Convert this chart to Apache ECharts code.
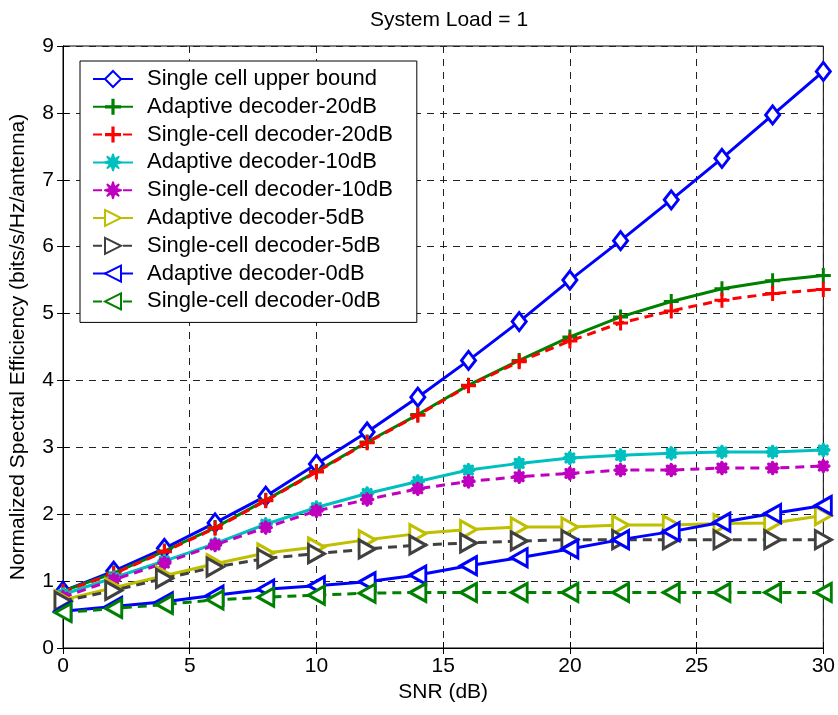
<!DOCTYPE html>
<html>
<head>
<meta charset="utf-8">
<script src="https://cdn.jsdelivr.net/npm/echarts@6/dist/echarts.min.js"></script>
<style>html,body{margin:0;padding:0;background:#fff}#c{width:838px;height:715px}</style>
</head>
<body>
<div id="c"></div>
<script>
const snr = [0,2,4,6,8,10,12,14,16,18,20,22,24,26,28,30];
const seriesNames = [
  'Single cell upper bound',
  'Adaptive decoder-20dB',
  'Single-cell decoder-20dB',
  'Adaptive decoder-10dB',
  'Single-cell decoder-10dB',
  'Adaptive decoder-5dB',
  'Single-cell decoder-5dB',
  'Adaptive decoder-0dB',
  'Single-cell decoder-0dB'
];
const upperBound   = [0.85,1.15,1.49,1.87,2.27,2.75,3.23,3.75,4.30,4.88,5.50,6.09,6.70,7.32,7.97,8.62];
const adaptive20   = [0.85,1.12,1.45,1.80,2.21,2.64,3.08,3.49,3.93,4.30,4.65,4.95,5.18,5.37,5.49,5.57];
const single20     = [0.84,1.11,1.44,1.79,2.20,2.63,3.07,3.48,3.92,4.28,4.59,4.86,5.04,5.20,5.30,5.36];
const adaptive10   = [0.80,1.05,1.30,1.56,1.85,2.10,2.31,2.49,2.66,2.76,2.84,2.88,2.91,2.93,2.93,2.96];
const single10     = [0.76,1.02,1.27,1.54,1.80,2.05,2.22,2.38,2.49,2.56,2.61,2.66,2.66,2.69,2.69,2.72];
const adaptive5    = [0.72,0.90,1.08,1.26,1.42,1.51,1.62,1.71,1.77,1.81,1.81,1.84,1.84,1.86,1.87,1.98];
const single5      = [0.70,0.86,1.04,1.21,1.34,1.41,1.48,1.54,1.57,1.60,1.62,1.62,1.62,1.62,1.62,1.62];
const adaptive0    = [0.55,0.62,0.69,0.79,0.88,0.93,0.99,1.09,1.23,1.35,1.48,1.62,1.74,1.88,2.01,2.13];
const single0      = [0.53,0.59,0.65,0.72,0.76,0.79,0.82,0.83,0.83,0.83,0.83,0.83,0.83,0.83,0.83,0.83];
const allValues = [upperBound,adaptive20,single20,adaptive10,single10,adaptive5,single5,adaptive0,single0];

const colors = ['#0000ff','#008000','#ff0000','#00bfbf','#bf00bf','#bfbf00','#404040','#0000ff','#008000'];
const dashed = [false,false,true,false,true,false,true,false,true];
const PLUS = 'path://M4,0H6V4H10V6H6V10H4V6H0V4H4Z';
const STAR = 'path://M5,0L6,3.3L8.5,1.5L6.7,4L10,5L6.7,6L8.5,8.5L6,6.7L5,10L4,6.7L1.5,8.5L3.3,6L0,5L3.3,4L1.5,1.5L4,3.3Z';
const RTRI = 'path://M0,0L10,5L0,10Z';
const LTRI = 'path://M10,0L0,5L10,10Z';
const symbols = ['diamond',PLUS,PLUS,STAR,STAR,RTRI,RTRI,LTRI,LTRI];
const sizes = [[14,18],[15,15],[15,15],[11,11],[11,11],[16,18],[16,18],[16,18],[16,18]];
const hollow = [true,false,false,false,false,true,true,true,true];

const series = allValues.map((vals,i)=>({
  name: seriesNames[i],
  type: 'line',
  data: snr.map((x,j)=>[x, vals[j]]),
  symbol: symbols[i],
  symbolSize: sizes[i],
  showSymbol: true,
  lineStyle: {color: colors[i], width: 3, type: dashed[i] ? [9,6] : 'solid'},
  itemStyle: hollow[i]
    ? {color: '#ffffff', borderColor: colors[i], borderWidth: 3}
    : (symbols[i]===STAR
        ? {color: colors[i], borderColor: colors[i], borderWidth: 3.5, borderJoin: 'round'}
        : {color: colors[i], borderWidth: 0}),
  emphasis: {disabled: true},
  animation: false,
  z: 2 + i
}));

const FONT = 'Liberation Sans, Arial, sans-serif';
const chart = echarts.init(document.getElementById('c'), null, {renderer: 'canvas'});
chart.setOption({
  backgroundColor: '#fff',
  animation: false,
  title: {
    text: 'System Load = 1',
    left: 444, top: 5, textAlign: 'center',
    textStyle: {fontFamily: FONT, fontSize: 21, fontWeight: 'normal', color: '#000'}
  },
  grid: {left: 62, right: 12, top: 46, bottom: 67, show: true, borderColor: '#000', borderWidth: 1, backgroundColor: 'transparent'},
  legend: {
    orient: 'vertical',
    left: 80, top: 61,
    padding: [7, 24, 10, 12],
    itemWidth: 40, itemHeight: 20, itemGap: 5.8,
    backgroundColor: '#fff', borderColor: '#000', borderWidth: 1,
    textStyle: {fontFamily: FONT, fontSize: 22, lineHeight: 22, color: '#000', padding: [0,0,0,9]},
    data: seriesNames
  },
  xAxis: [{
    type: 'value', min: 0, max: 30, interval: 5,
    name: 'SNR (dB)', nameLocation: 'middle', nameGap: 34,
    nameTextStyle: {fontFamily: FONT, fontSize: 21, color: '#000'},
    axisLine: {show: true, lineStyle: {color: '#000', width: 1}},
    axisTick: {show: true, inside: true, length: 6, lineStyle: {color: '#000'}},
    axisLabel: {fontFamily: FONT, fontSize: 21, color: '#000', margin: 8},
    splitLine: {show: true, lineStyle: {color: '#222', type: [7,6], width: 1}}
  },{
    type: 'value', min: 0, max: 30, interval: 5, position: 'top',
    axisLine: {show: true, lineStyle: {color: '#000'}},
    axisTick: {show: true, inside: true, length: 6, lineStyle: {color: '#000'}},
    axisLabel: {show: false}, splitLine: {show: false}
  }],
  yAxis: [{
    type: 'value', min: 0, max: 9, interval: 1,
    name: 'Normalized Spectral Efficiency (bits/s/Hz/antenna)', nameLocation: 'middle', nameGap: 34,
    nameTextStyle: {fontFamily: FONT, fontSize: 21, color: '#000'},
    axisLine: {show: true, lineStyle: {color: '#000', width: 1}},
    axisTick: {show: true, inside: true, length: 6, lineStyle: {color: '#000'}},
    axisLabel: {fontFamily: FONT, fontSize: 21, color: '#000', margin: 9},
    splitLine: {show: true, lineStyle: {color: '#222', type: [7,6], width: 1}}
  },{
    type: 'value', min: 0, max: 9, interval: 1, position: 'right',
    axisLine: {show: true, lineStyle: {color: '#000'}},
    axisTick: {show: true, inside: true, length: 6, lineStyle: {color: '#000'}},
    axisLabel: {show: false}, splitLine: {show: false}
  }],
  series: series
});
</script>
</body>
</html>
